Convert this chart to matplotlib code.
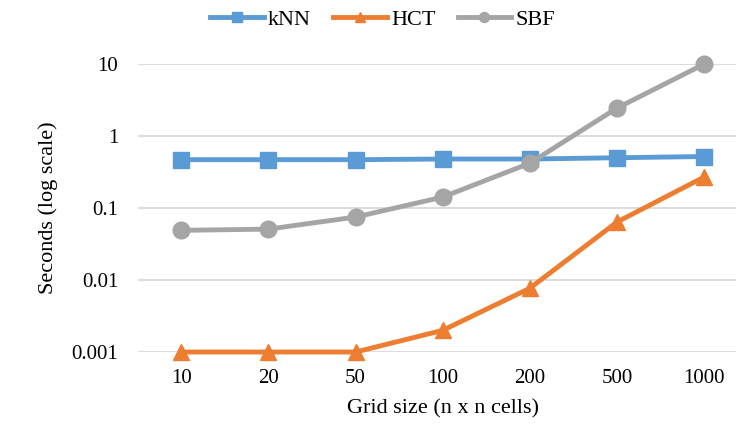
import matplotlib.pyplot as plt
import numpy as np

plt.rcParams['font.family'] = ['Liberation Serif', 'DejaVu Serif']

grid_sizes = ['10', '20', '50', '100', '200', '500', '1000']
knn = [0.47, 0.47, 0.47, 0.48, 0.48, 0.50, 0.52]
hct = [0.001, 0.001, 0.001, 0.002, 0.0077, 0.064, 0.27]
sbf = [0.049, 0.051, 0.075, 0.142, 0.42, 2.45, 10]
yticks = [0.001, 0.01, 0.1, 1, 10]
ytick_labels = ['0.001', '0.01', '0.1', '1', '10']

fig = plt.figure(figsize=(7.36, 4.33), dpi=100)
ax = fig.add_axes([0.187, 0.187, 0.829, 0.665])

x = np.arange(len(grid_sizes))
ax.plot(x, knn, color='#5B9BD5', lw=3.5, marker='s', ms=12, label='kNN', zorder=3, clip_on=False)
ax.plot(x, hct, color='#ED7D31', lw=3.5, marker='^', ms=12, label='HCT', zorder=3, clip_on=False)
ax.plot(x, sbf, color='#A5A5A5', lw=3.5, marker='o', ms=12, label='SBF', zorder=3, clip_on=False)

ax.set_yscale('log')
ax.set_ylim(0.001, 10)
ax.set_xlim(-0.5, 6.5)
ax.set_yticks(yticks)
ax.set_yticklabels(ytick_labels)
ax.minorticks_off()
ax.set_xticks(x)
ax.set_xticklabels(grid_sizes)
ax.tick_params(length=0, labelsize=15, pad=12)
ax.tick_params(axis='y', pad=14)
ax.grid(axis='y', color='#D9D9D9', lw=1.3)
ax.set_axisbelow(True)
for s in ax.spines.values():
    s.set_visible(False)

ax.set_xlabel('Grid size (n x n cells)', fontsize=16, labelpad=8)
ax.set_ylabel('Seconds (log scale)', fontsize=16, labelpad=10)

fig.legend(loc='center', bbox_to_anchor=(0.52, 0.955), ncol=3, frameon=False,
           fontsize=16, handlelength=2.4, columnspacing=1.0, handletextpad=0.2,
           markerscale=0.6)

plt.savefig('out.png')
